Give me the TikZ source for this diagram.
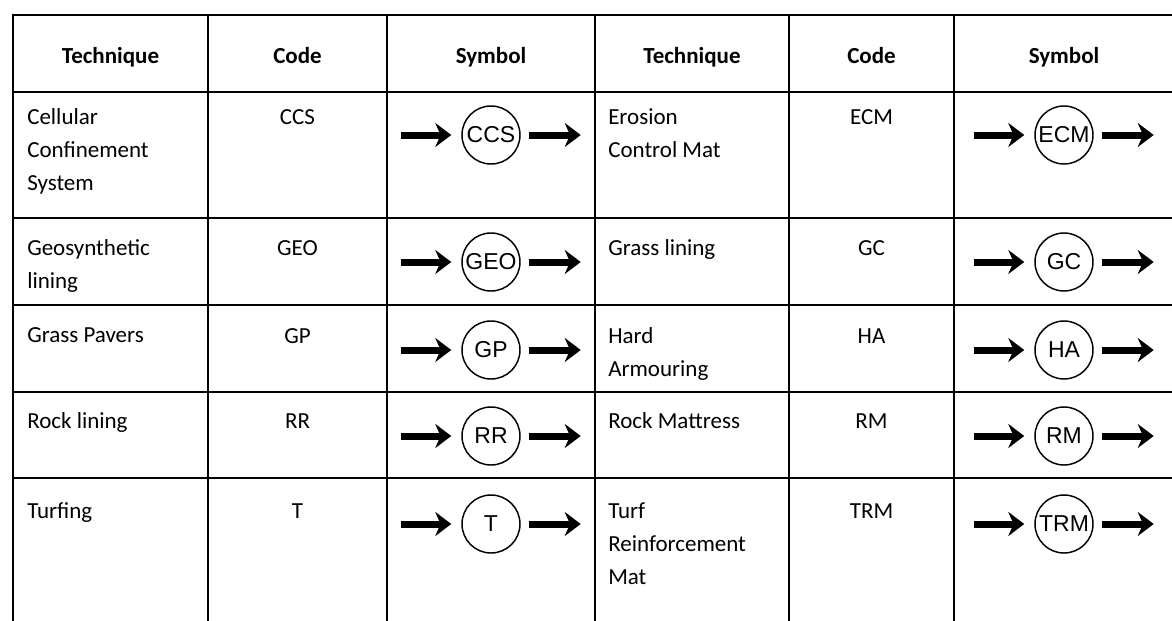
\documentclass[tikz,border=0pt]{standalone}
\usepackage{fontspec}
\setmainfont{Carlito}
\newfontfamily\symfont{Liberation Sans}
\usetikzlibrary{arrows.meta}

\tikzset{
  cellrule/.style={line width=1.5pt, line cap=rect},
  headtext/.style={anchor=base, inner sep=0pt, font=\fontsize{17.25}{24.75}\selectfont\bfseries},
  techtext/.style={anchor=north west, inner sep=0pt, align=left, font=\fontsize{17.25}{24.75}\selectfont},
  codetext/.style={anchor=base, inner sep=0pt, font=\fontsize{17.25}{24.75}\selectfont},
  symcircle/.style={circle, draw, line width=1.1pt, minimum size=43.5pt, inner sep=0pt, font=\symfont\fontsize{17.25}{20}\selectfont},
  symarrow/.style={line width=5.25pt, -{Stealth[length=12pt, width=18pt, inset=4pt]}},
}

\begin{document}
\begin{tikzpicture}[x=0.75pt,y=0.75pt,yscale=-1,xscale=1]
\useasboundingbox (0,0) rectangle (1172,621);

%Straight Lines
\draw [cellrule] (13,15) -- (1180,15) ;
\draw [cellrule] (13,92) -- (1180,92) ;
\draw [cellrule] (13,218) -- (1180,218) ;
\draw [cellrule] (13,305) -- (1180,305) ;
\draw [cellrule] (13,392) -- (1180,392) ;
\draw [cellrule] (13,478) -- (1180,478) ;
%Straight Lines
\draw [cellrule] (13,15) -- (13,630) ;
\draw [cellrule] (208,15) -- (208,630) ;
\draw [cellrule] (387,15) -- (387,630) ;
\draw [cellrule] (595,15) -- (595,630) ;
\draw [cellrule] (789,15) -- (789,630) ;
\draw [cellrule] (954,15) -- (954,630) ;

% Text Node
\node [headtext] (h1) at (110.5,63) {Technique};
\node [headtext] (h2) at (297.5,63) {Code};
\node [headtext] (h3) at (491,63) {Symbol};
\node [headtext] (h4) at (692,63) {Technique};
\node [headtext] (h5) at (871.5,63) {Code};
\node [headtext] (h6) at (1064,63) {Symbol};

% Text Node
\node [techtext] (t1) at (27,108) {Cellular\\Confinement\\System};
\node [techtext] (t2) at (27,239) {Geosynthetic\\lining};
\node [techtext] (t3) at (27,327) {Grass Pavers};
\node [techtext] (t4) at (27,412) {Rock lining};
\node [techtext] (t5) at (27,502) {Turfing};
\node [techtext] (t6) at (608,108) {Erosion\\Control Mat};
\node [techtext] (t7) at (608,239) {Grass lining};
\node [techtext] (t8) at (608,327) {Hard\\Armouring};
\node [techtext] (t9) at (608,412) {Rock Mattress};
\node [techtext] (t10) at (608,502) {Turf\\Reinforcement\\Mat};

% Text Node
\node [codetext] (c1) at (297.5,124) {CCS};
\node [codetext] (c2) at (297.5,255) {GEO};
\node [codetext] (c3) at (297.5,343) {GP};
\node [codetext] (c4) at (297.5,428) {RR};
\node [codetext] (c5) at (297.5,518) {T};
\node [codetext] (c6) at (871.5,124) {ECM};
\node [codetext] (c7) at (871.5,255) {GC};
\node [codetext] (c8) at (871.5,343) {HA};
\node [codetext] (c9) at (871.5,428) {RM};
\node [codetext] (c10) at (871.5,518) {TRM};

% Symbol Nodes
\node [symcircle] (s1) at (491,135) {CCS};
\node [symcircle] (s2) at (491,262) {GEO};
\node [symcircle] (s3) at (491,350) {GP};
\node [symcircle] (s4) at (491,436) {RR};
\node [symcircle] (s5) at (491,524) {T};
\node [symcircle] (s6) at (1064,135) {ECM};
\node [symcircle] (s7) at (1064,262) {GC};
\node [symcircle] (s8) at (1064,350) {HA};
\node [symcircle] (s9) at (1064,436) {RM};
\node [symcircle] (s10) at (1064,524) {TRM};

%Arrows
\foreach \s in {s1,s2,s3,s4,s5,s6,s7,s8,s9,s10}{
  \coordinate (\s in) at ([xshift=-45pt]\s.west);
  \coordinate (\s out) at ([xshift=45pt]\s.east);
  \draw [symarrow, shorten >=7.5pt] (\s in) -- (\s.west) ;
  \draw [symarrow, shorten <=6pt] (\s.east) -- (\s out) ;
}

\end{tikzpicture}
\end{document}
